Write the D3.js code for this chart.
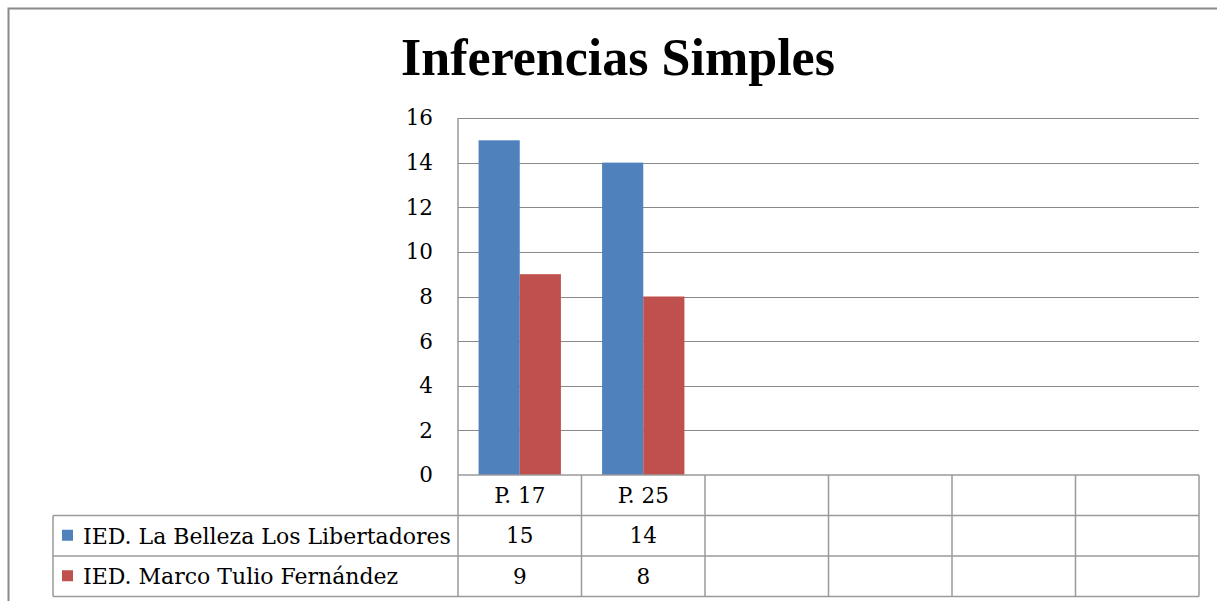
<!DOCTYPE html>
<html>
<head>
<meta charset="utf-8">
<script src="https://cdn.jsdelivr.net/npm/d3@7/dist/d3.min.js"></script>
<style>
  html, body { margin: 0; padding: 0; background: #fff; }
  svg { display: block; }
</style>
</head>
<body>
<svg id="chart" width="1217" height="601"></svg>
<script>
// Chart data
const title = "Inferencias Simples";
const categories = ["P. 17", "P. 25", "", "", "", ""];
const seriesNames = ["IED. La Belleza Los Libertadores", "IED. Marco Tulio Fernández"];
const seriesColors = ["#4F81BD", "#C0504D"];
const belleza = [15, 14, null, null, null, null];
const marcoTulio = [9, 8, null, null, null, null];
const yTicks = [0, 2, 4, 6, 8, 10, 12, 14, 16];

const seriesValues = [belleza, marcoTulio];

const svg = d3.select("#chart");
const W = 1217, H = 601;

// Layout
const plot = { left: 458, right: 1199, top: 118, bottom: 475 };
const tableLeft = 53;
const rowH = 40.5;
const bodyFont = "'DejaVu Serif', serif";
const bodySize = 21.5;
const gridColor = "#8A8A8A";
const tableColor = "#9A9A9A";

// Outer chart frame (open to the right and bottom edge of the window)
svg.append("path")
  .attr("d", `M8.5,${H} L8.5,8.5 L${W},8.5`)
  .attr("fill", "none")
  .attr("stroke", "#8A8A8A")
  .attr("stroke-width", 2);

// Title
svg.append("text")
  .attr("x", 618)
  .attr("y", 75)
  .attr("text-anchor", "middle")
  .attr("font-family", "'Liberation Serif', serif")
  .attr("font-weight", "bold")
  .attr("font-size", 52)
  .attr("fill", "#000")
  .text(title);

// Scales
const x0 = d3.scaleBand()
  .domain(d3.range(categories.length))
  .range([plot.left, plot.right])
  .paddingInner(0)
  .paddingOuter(0);

const x1 = d3.scaleBand()
  .domain(d3.range(seriesValues.length))
  .range([0, x0.bandwidth()])
  .paddingInner(0)
  .paddingOuter(0.5);

const y = d3.scaleLinear()
  .domain([0, 16])
  .range([plot.bottom, plot.top]);

// Horizontal gridlines
svg.append("g")
  .selectAll("line")
  .data(yTicks.filter(d => d > 0))
  .join("line")
  .attr("x1", plot.left)
  .attr("x2", plot.right)
  .attr("y1", d => Math.round(y(d)) + 0.5)
  .attr("y2", d => Math.round(y(d)) + 0.5)
  .attr("stroke", gridColor)
  .attr("stroke-width", 1.2);

// Y axis with labels
const yAxis = d3.axisLeft(y)
  .tickValues(yTicks)
  .tickSize(0)
  .tickPadding(25)
  .tickFormat(d3.format("d"));

const yAxisG = svg.append("g")
  .attr("transform", `translate(${plot.left},0)`)
  .call(yAxis);
yAxisG.select(".domain").remove();
yAxisG.selectAll("text")
  .attr("font-family", bodyFont)
  .attr("font-size", bodySize)
  .attr("fill", "#000");

// Bars
const groups = svg.append("g")
  .selectAll("g")
  .data(categories.map((c, i) => i))
  .join("g")
  .attr("transform", i => `translate(${x0(i)},0)`);

groups.selectAll("rect")
  .data(i => seriesValues.map((vals, s) => ({ s, v: vals[i] })).filter(d => d.v != null))
  .join("rect")
  .attr("x", d => x1(d.s))
  .attr("width", x1.bandwidth())
  .attr("y", d => y(d.v))
  .attr("height", d => y(0) - y(d.v))
  .attr("fill", d => seriesColors[d.s]);

// Data table below the plot
const tbl = svg.append("g")
  .attr("stroke", tableColor)
  .attr("stroke-width", 1.5)
  .attr("fill", "none");

const rowY = [plot.bottom, plot.bottom + rowH, plot.bottom + 2 * rowH, plot.bottom + 3 * rowH];

// Value axis line
tbl.append("line")
  .attr("x1", plot.left).attr("x2", plot.left)
  .attr("y1", plot.top).attr("y2", rowY[3]);

// Row separators
tbl.append("line").attr("x1", plot.left).attr("x2", plot.right).attr("y1", rowY[0]).attr("y2", rowY[0]);
[1, 2, 3].forEach(k => {
  tbl.append("line")
    .attr("x1", tableLeft).attr("x2", plot.right)
    .attr("y1", rowY[k]).attr("y2", rowY[k]);
});

// Left edge of legend column
tbl.append("line")
  .attr("x1", tableLeft).attr("x2", tableLeft)
  .attr("y1", rowY[1]).attr("y2", rowY[3]);

// Column separators
tbl.selectAll(".col")
  .data(d3.range(1, categories.length + 1))
  .join("line")
  .attr("class", "col")
  .attr("x1", i => i < categories.length ? x0(i) : plot.right)
  .attr("x2", i => i < categories.length ? x0(i) : plot.right)
  .attr("y1", rowY[0]).attr("y2", rowY[3]);

// Category labels
svg.append("g")
  .selectAll("text")
  .data(categories)
  .join("text")
  .attr("x", (d, i) => x0(i) + x0.bandwidth() / 2)
  .attr("y", (rowY[0] + rowY[1]) / 2)
  .attr("dy", "0.36em")
  .attr("text-anchor", "middle")
  .attr("font-family", bodyFont)
  .attr("font-size", bodySize)
  .attr("fill", "#000")
  .text(d => d);

// Series rows: legend key, name and values
seriesValues.forEach((vals, s) => {
  const cy = (rowY[s + 1] + rowY[s + 2]) / 2;
  svg.append("rect")
    .attr("x", 62)
    .attr("y", cy - 6)
    .attr("width", 11)
    .attr("height", 11)
    .attr("fill", seriesColors[s]);
  svg.append("text")
    .attr("x", 83)
    .attr("y", cy)
    .attr("dy", "0.36em")
    .attr("font-family", bodyFont)
    .attr("font-size", 22)
    .attr("fill", "#000")
    .text(seriesNames[s]);
  svg.append("g")
    .selectAll("text")
    .data(vals)
    .join("text")
    .attr("x", (d, i) => x0(i) + x0.bandwidth() / 2)
    .attr("y", cy)
    .attr("dy", "0.36em")
    .attr("text-anchor", "middle")
    .attr("font-family", bodyFont)
    .attr("font-size", bodySize)
    .attr("fill", "#000")
    .text(d => d == null ? "" : d);
});
</script>
</body>
</html>
